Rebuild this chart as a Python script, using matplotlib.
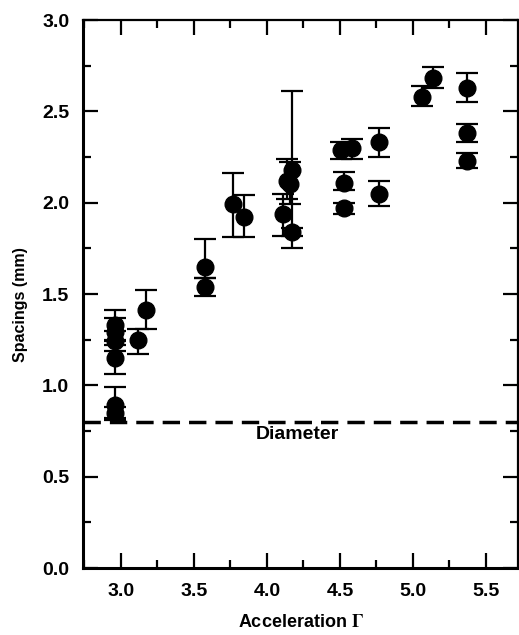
import matplotlib
matplotlib.use("Agg")
import matplotlib.pyplot as plt
import numpy as np
from matplotlib.ticker import MultipleLocator

plt.rcParams['font.family'] = ['Liberation Sans', 'DejaVu Sans']
plt.rcParams['font.weight'] = 'bold'
plt.rcParams['mathtext.fontset'] = 'stix'

# acceleration Gamma, spacing (mm), lower / upper end of error bar
accel = [2.96, 2.96, 2.96, 2.96, 2.96, 2.96, 3.12, 3.17,
         3.575, 3.575, 3.77, 3.84,
         4.17, 4.14, 4.16, 4.11, 4.17,
         4.51, 4.58, 4.77, 4.53, 4.53, 4.77,
         5.06, 5.14, 5.37, 5.37, 5.37]
spacing = [1.33, 1.29, 1.24, 1.15, 0.89, 0.85, 1.25, 1.41,
           1.65, 1.54, 1.99, 1.92,
           2.18, 2.12, 2.10, 1.94, 1.84,
           2.29, 2.30, 2.33, 2.11, 1.97, 2.05,
           2.58, 2.68, 2.63, 2.38, 2.23]
err_low = [1.25, 1.22, 1.19, 1.06, 0.81, 0.82, 1.17, 1.31,
           1.59, 1.49, 1.81, 1.81,
           1.75, 2.02, 1.99, 1.82, 1.82,
           2.24, 2.24, 2.25, 2.07, 1.94, 1.98,
           2.53, 2.63, 2.55, 2.33, 2.19]
err_high = [1.41, 1.37, 1.30, 1.24, 0.99, 0.88, 1.31, 1.52,
            1.80, 1.59, 2.16, 2.04,
            2.61, 2.24, 2.22, 2.05, 1.86,
            2.33, 2.35, 2.41, 2.17, 2.00, 2.12,
            2.64, 2.74, 2.71, 2.43, 2.27]
diameter = 0.8

x = np.array(accel)
y = np.array(spacing)
yerr = [y - np.array(err_low), np.array(err_high) - y]

fig = plt.figure(figsize=(5.19, 6.35), dpi=100)
ax = fig.add_axes([0.160, 0.1055, 0.838, 0.863])

ax.errorbar(x, y, yerr=yerr, fmt='o', color='black', markersize=12,
            elinewidth=1.6, capsize=8, capthick=1.6, zorder=3)
ax.axhline(diameter, color='black', lw=2.5, linestyle=(0, (5, 2.6)), zorder=2)
ax.text(4.21, 0.73, 'Diameter', fontsize=14, fontweight='bold',
        ha='center', va='center')

ax.set_xlim(2.74, 5.72)
ax.set_ylim(0, 3.0)
ax.xaxis.set_major_locator(MultipleLocator(0.5))
ax.xaxis.set_minor_locator(MultipleLocator(0.25))
ax.yaxis.set_major_locator(MultipleLocator(0.5))
ax.yaxis.set_minor_locator(MultipleLocator(0.25))
ax.tick_params(which='both', direction='in', top=True, right=True, width=1.6,
               labelsize=14)
ax.tick_params(axis='x', pad=11)
ax.tick_params(axis='y', pad=10)
ax.tick_params(which='major', length=11)
ax.tick_params(which='minor', length=6)
ax.xaxis.set_major_formatter(plt.FormatStrFormatter('%.1f'))
ax.yaxis.set_major_formatter(plt.FormatStrFormatter('%.1f'))
for lab in ax.get_xticklabels() + ax.get_yticklabels():
    lab.set_fontweight('bold')
for sp in ax.spines.values():
    sp.set_linewidth(1.6)
ax.spines['left'].set_linewidth(2.2)
ax.spines['bottom'].set_linewidth(2.2)

ax.set_xlabel(r'Acceleration $\Gamma$', fontsize=13, fontweight='bold', labelpad=10)
ax.set_ylabel('Spacings (mm)', fontsize=11.5, fontweight='bold')
ax.yaxis.set_label_coords(-0.126, 0.48)

fig.savefig('out.png', dpi=100)
